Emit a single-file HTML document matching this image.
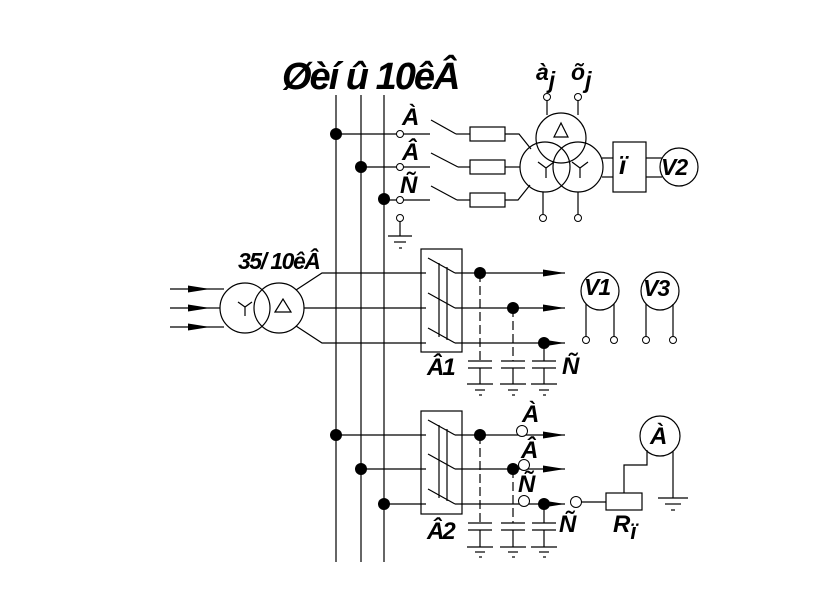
<!DOCTYPE html>
<html><head><meta charset="utf-8"><style>
html,body{margin:0;padding:0;background:#fff;}
svg{display:block;}
text{font-family:"Liberation Sans",sans-serif;font-weight:bold;font-style:italic;fill:#000;}
</style></head><body>
<svg width="840" height="595" viewBox="0 0 840 595" xmlns="http://www.w3.org/2000/svg">
<defs>
<marker id="ar" markerWidth="22" markerHeight="10" refX="22" refY="5" orient="auto" markerUnits="userSpaceOnUse">
<path d="M0,1.5 L22,5 L0,8.5 Z" fill="#000"/>
</marker>
</defs>
<g stroke="#000" stroke-width="1.2" fill="none">
<line x1="336" y1="95" x2="336" y2="562"/>
<line x1="361" y1="95" x2="361" y2="562"/>
<line x1="384" y1="95" x2="384" y2="562"/>

<line x1="336" y1="134" x2="430" y2="134"/>
<line x1="361" y1="167" x2="430" y2="167"/>
<line x1="384" y1="200" x2="430" y2="200"/>
<line x1="431" y1="120" x2="456" y2="134"/><line x1="456" y1="134" x2="470" y2="134"/>
<line x1="431" y1="153" x2="458" y2="167"/><line x1="458" y1="167" x2="470" y2="167"/>
<line x1="431" y1="186" x2="457" y2="200"/><line x1="457" y1="200" x2="470" y2="200"/>
<rect x="470" y="127" width="35" height="14"/>
<rect x="470" y="160" width="35" height="14"/>
<rect x="470" y="193" width="35" height="14"/>
<polyline points="505,134 519,134 531,149"/>
<line x1="505" y1="167" x2="520" y2="167"/>
<polyline points="505,200 518,200 530,185"/>
<line x1="400" y1="220" x2="400" y2="236"/>
<line x1="388" y1="236" x2="412" y2="236"/>
<line x1="394" y1="242" x2="406" y2="242"/>
<line x1="399" y1="248" x2="402" y2="248"/>
<circle cx="561" cy="138" r="25"/>
<circle cx="545" cy="167" r="25"/>
<circle cx="578" cy="167" r="25"/>
<path d="M554,137 L561,123 L568,137 Z"/>
<path d="M538,162 L546,168 L554,162 M546,168 L546,178"/>
<path d="M572,162 L580,168 L588,162 M580,168 L580,178"/>
<line x1="547" y1="100" x2="547" y2="115"/>
<line x1="578" y1="100" x2="578" y2="115"/>
<line x1="543" y1="192" x2="543" y2="214"/>
<line x1="578" y1="192" x2="578" y2="214"/>
<line x1="602" y1="158" x2="613" y2="158"/>
<line x1="602" y1="177" x2="613" y2="177"/>
<rect x="613" y="142" width="33" height="50"/>
<line x1="646" y1="158" x2="662" y2="158"/>
<line x1="646" y1="177" x2="662" y2="177"/>
<circle cx="679" cy="167" r="19"/>

<line x1="170" y1="289" x2="210" y2="289" marker-end="url(#ar)"/>
<line x1="170" y1="308" x2="210" y2="308" marker-end="url(#ar)"/>
<line x1="170" y1="327" x2="210" y2="327" marker-end="url(#ar)"/>
<line x1="210" y1="289" x2="224" y2="289"/>
<line x1="210" y1="308" x2="220" y2="308"/>
<line x1="210" y1="327" x2="224" y2="327"/>
<circle cx="245" cy="308" r="25"/>
<circle cx="279" cy="308" r="25"/>
<path d="M238,302 L245,307 L252,302 M245,307 L245,316"/>
<path d="M275,312 L283,299 L291,312 Z"/>
<polyline points="296,290 322,273 426,273"/>
<line x1="304" y1="308" x2="426" y2="308"/>
<polyline points="296,326 322,343 426,343"/>
<rect x="421" y="249" width="41" height="103"/>
<line x1="428" y1="258" x2="455" y2="273"/>
<line x1="428" y1="293" x2="455" y2="308"/>
<line x1="428" y1="328" x2="455" y2="343"/>
<line x1="439" y1="263" x2="439" y2="337"/>
<line x1="447" y1="267" x2="447" y2="340"/>
<line x1="455" y1="273" x2="565" y2="273" marker-end="url(#ar)"/>
<line x1="455" y1="308" x2="565" y2="308" marker-end="url(#ar)"/>
<line x1="455" y1="343" x2="565" y2="343" marker-end="url(#ar)"/>
<g stroke-dasharray="9,4">
<line x1="480" y1="273" x2="480" y2="361"/>
<line x1="513" y1="308" x2="513" y2="361"/>
</g>
<line x1="544" y1="343" x2="544" y2="361"/>
<g id="c1">
<line x1="468" y1="361" x2="492" y2="361"/><line x1="468" y1="368" x2="492" y2="368"/>
<line x1="480" y1="368" x2="480" y2="384"/>
<line x1="467" y1="384" x2="493" y2="384"/><line x1="475" y1="390" x2="485" y2="390"/><line x1="479" y1="395" x2="482" y2="395"/>
</g>
<use href="#c1" x="33"/>
<use href="#c1" x="64"/>
<circle cx="600" cy="291" r="19"/>
<circle cx="660" cy="291" r="19"/>
<line x1="586" y1="304" x2="586" y2="337"/>
<line x1="614" y1="304" x2="614" y2="337"/>
<line x1="646" y1="304" x2="646" y2="337"/>
<line x1="673" y1="304" x2="673" y2="337"/>

<line x1="336" y1="435" x2="426" y2="435"/>
<line x1="361" y1="469" x2="426" y2="469"/>
<line x1="384" y1="504" x2="426" y2="504"/>
<rect x="421" y="411" width="41" height="103"/>
<line x1="428" y1="420" x2="455" y2="435"/>
<line x1="428" y1="454" x2="455" y2="469"/>
<line x1="428" y1="489" x2="455" y2="504"/>
<line x1="439" y1="425" x2="439" y2="498"/>
<line x1="447" y1="429" x2="447" y2="501"/>
<line x1="455" y1="435" x2="565" y2="435" marker-end="url(#ar)"/>
<line x1="455" y1="469" x2="565" y2="469" marker-end="url(#ar)"/>
<line x1="455" y1="504" x2="565" y2="504" marker-end="url(#ar)"/>
<g stroke-dasharray="9,4">
<line x1="480" y1="435" x2="480" y2="523"/>
<line x1="513" y1="469" x2="513" y2="523"/>
</g>
<line x1="544" y1="504" x2="544" y2="523"/>
<g id="c2">
<line x1="468" y1="523" x2="492" y2="523"/><line x1="468" y1="530" x2="492" y2="530"/>
<line x1="480" y1="530" x2="480" y2="547"/>
<line x1="467" y1="547" x2="493" y2="547"/><line x1="475" y1="552" x2="485" y2="552"/><line x1="479" y1="557" x2="482" y2="557"/>
</g>
<use href="#c2" x="33"/>
<use href="#c2" x="64"/>
<line x1="580" y1="502" x2="606" y2="502"/>
<rect x="606" y="493" width="36" height="17"/>
<polyline points="624,493 624,465 647,465 647,450"/>
<circle cx="660" cy="436" r="20"/>
<line x1="673" y1="451" x2="673" y2="498"/>
<line x1="658" y1="498" x2="688" y2="498"/>
<line x1="665" y1="504" x2="681" y2="504"/>
<line x1="671" y1="510" x2="675" y2="510"/>
</g>
<g fill="#000">
<circle cx="336" cy="134" r="6"/><circle cx="361" cy="167" r="6"/><circle cx="384" cy="199" r="6"/>
<circle cx="480" cy="273" r="6"/><circle cx="513" cy="308" r="6"/><circle cx="544" cy="343" r="6"/>
<circle cx="336" cy="435" r="6"/><circle cx="361" cy="469" r="6"/><circle cx="384" cy="504" r="6"/>
<circle cx="480" cy="435" r="6"/><circle cx="513" cy="469" r="6"/><circle cx="544" cy="504" r="6"/>
</g>
<g fill="#fff" stroke="#000" stroke-width="1">
<circle cx="400" cy="134" r="3.5"/><circle cx="400" cy="167" r="3.5"/><circle cx="400" cy="200" r="3.5"/><circle cx="400" cy="218" r="3.5"/>
<circle cx="547" cy="97" r="3.5"/><circle cx="578" cy="97" r="3.5"/>
<circle cx="543" cy="218" r="3.5"/><circle cx="578" cy="218" r="3.5"/>
<circle cx="586" cy="340" r="3.5"/><circle cx="614" cy="340" r="3.5"/><circle cx="646" cy="340" r="3.5"/><circle cx="673" cy="340" r="3.5"/>
<circle cx="522" cy="431" r="5.5"/><circle cx="524" cy="465" r="5.5"/><circle cx="524" cy="501" r="5.5"/>
<circle cx="576" cy="502" r="5.5"/>
</g>
<text x="282" y="89" font-size="38" letter-spacing="-2">Øèí û 10êÂ</text>
<text x="536" y="80" font-size="23">à<tspan dy="8">j</tspan></text>
<text x="571" y="80" font-size="23">õ<tspan dy="8">j</tspan></text>
<text x="402" y="125" font-size="24">À</text>
<text x="402" y="160" font-size="24">Â</text>
<text x="400" y="193" font-size="24">Ñ</text>
<text x="619" y="174" font-size="26">ï</text>
<text x="661" y="175" font-size="23" letter-spacing="-1">V2</text>
<text x="238" y="269" font-size="23" letter-spacing="-1.5">35/ 10êÂ</text>
<text x="584" y="295" font-size="23" letter-spacing="-1">V1</text>
<text x="643" y="296" font-size="23" letter-spacing="-1">V3</text>
<text x="427" y="375" font-size="24" letter-spacing="-2">Â1</text>
<text x="562" y="374" font-size="24">Ñ</text>
<text x="522" y="422" font-size="24">À</text>
<text x="521" y="458" font-size="24">Â</text>
<text x="518" y="492" font-size="24">Ñ</text>
<text x="650" y="444" font-size="24">À</text>
<text x="427" y="539" font-size="24" letter-spacing="-2">Â2</text>
<text x="559" y="532" font-size="24">Ñ</text>
<text x="613" y="532" font-size="24">R<tspan dy="7" font-size="22">ï</tspan></text>
</svg>
</body></html>
